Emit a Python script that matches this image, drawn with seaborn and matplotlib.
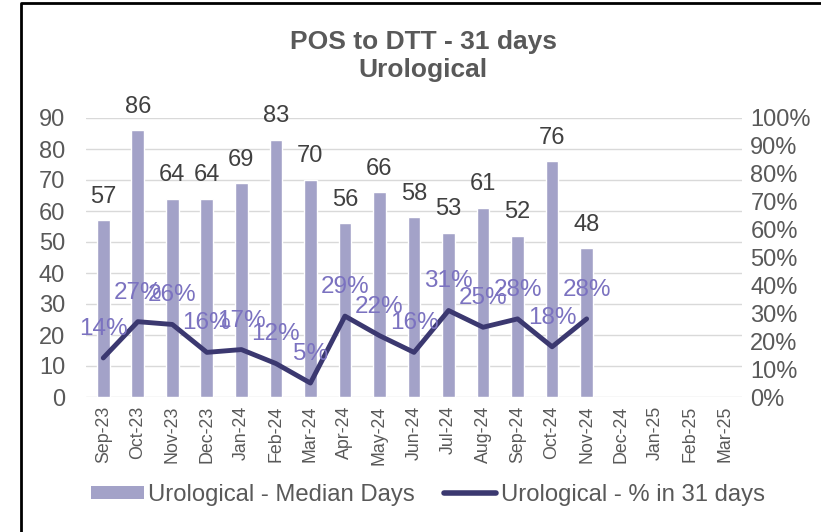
import numpy as np
import pandas as pd
import matplotlib
matplotlib.use("Agg")
import matplotlib.pyplot as plt
from matplotlib.lines import Line2D
from matplotlib.patches import Patch
from matplotlib.ticker import FuncFormatter
import seaborn as sns

months = ["Sep-23", "Oct-23", "Nov-23", "Dec-23", "Jan-24", "Feb-24", "Mar-24",
          "Apr-24", "May-24", "Jun-24", "Jul-24", "Aug-24", "Sep-24", "Oct-24",
          "Nov-24", "Dec-24", "Jan-25", "Feb-25", "Mar-25"]
median_days = [57, 86, 64, 64, 69, 83, 70, 56, 66, 58, 53, 61, 52, 76, 48]
pct_in_31 = [0.14, 0.27, 0.26, 0.16, 0.17, 0.12, 0.05, 0.29, 0.22, 0.16,
             0.31, 0.25, 0.28, 0.18, 0.28]

bar_name = "Urological - Median Days"
line_name = "Urological - % in 31 days"

sns.set_theme(style="white")
plt.rcParams["font.family"] = ["Liberation Sans", "DejaVu Sans"]

GREY = "#595959"
BAR_C = "#A3A2C8"
LINE_C = "#3B3870"
PCT_C = "#7B72C0"

n = len(median_days)
df = pd.DataFrame({
    "month": months,
    "median": median_days + [np.nan] * (len(months) - n),
})

fig = plt.figure(figsize=(8.21, 5.32), dpi=100)
ax = fig.add_axes([86 / 821, 1 - 397 / 532, (742 - 86) / 821, (397 - 118) / 532])

sns.barplot(data=df, x="month", y="median", order=months, color=BAR_C,
            saturation=1, width=0.37, ax=ax)
ax.set_xlim(-0.5, len(months) - 0.5)
ax.set_ylim(0, 90)
ax.set_yticks(np.arange(0, 91, 10))
ax.grid(axis="y", color="#D9D9D9", lw=1)
ax.set_axisbelow(True)
for s in ax.spines.values():
    s.set_visible(False)
ax.set_xlabel("")
ax.set_ylabel("")
ax.tick_params(axis="y", length=0, pad=15, labelsize=17, labelcolor=GREY)
ax.tick_params(axis="x", length=0, pad=6, labelsize=12.8, labelcolor=GREY, rotation=90)

for i, v in enumerate(median_days):
    ax.annotate(f"{v}", (i, v), xytext=(0, 9), textcoords="offset points",
                ha="center", va="bottom", fontsize=17, color="#404040")

ax2 = ax.twinx()
sns.lineplot(x=np.arange(n), y=pct_in_31, color=LINE_C, lw=3.5, ax=ax2,
             solid_capstyle="round", solid_joinstyle="round")
ax2.set_ylim(0, 1)
ax2.set_yticks(np.arange(0, 1.01, 0.1))
ax2.yaxis.set_major_formatter(FuncFormatter(lambda v, p: f"{v * 100:.0f}%"))
ax2.tick_params(axis="y", length=0, pad=6, labelsize=17, labelcolor=GREY)
for lab in ax2.get_yticklabels():
    lab.set_ha("left")
for s in ax2.spines.values():
    s.set_visible(False)
ax2.grid(False)
ax2.set_ylabel("")

for i, p in enumerate(pct_in_31):
    ax2.annotate(f"{p * 100:.0f}%", (i, p), xytext=(0, 13), textcoords="offset points",
                 ha="center", va="bottom", fontsize=17.5, color=PCT_C)

fig.text(423 / 821, 1 - 56 / 532, "POS to DTT - 31 days\nUrological", ha="center",
         va="center", fontsize=19, fontweight="bold", color=GREY, linespacing=1.2)

handles = [Patch(facecolor=BAR_C, edgecolor="none", label=bar_name),
           Line2D([0], [0], color=LINE_C, lw=4, label=line_name)]
fig.legend(handles=handles, loc="center", bbox_to_anchor=(428 / 821, 1 - 495 / 532),
           ncol=2, frameon=False, fontsize=17.2, labelcolor=GREY, handlelength=2.2,
           handletextpad=0.2, columnspacing=1.2, handleheight=0.5)

# outer chart frame
fig.add_artist(Line2D([21 / 821, 21 / 821, 1], [0, 1 - 3 / 532, 1 - 3 / 532],
                      transform=fig.transFigure, color="black", lw=2))

fig.savefig("out.png", dpi=100)
